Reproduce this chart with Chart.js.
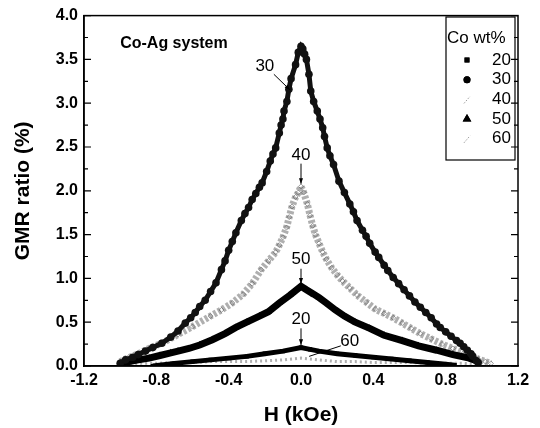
<!DOCTYPE html>
<html>
<head>
<meta charset="utf-8">
<script src="https://cdn.jsdelivr.net/npm/chart.js@4"></script>
<style>
  body { margin: 0; background: #fff; }
  #wrap { width: 540px; height: 428px; }
</style>
</head>
<body>
<div id="wrap"><canvas id="gmrChart" width="540" height="428"></canvas></div>
<script>
// tick labels
const xTicks = [-1.2, -0.8, -0.4, 0.0, 0.4, 0.8, 1.2];
const yTicks = [0.0, 0.5, 1.0, 1.5, 2.0, 2.5, 3.0, 3.5, 4.0];

// Co wt% = 20
const h20 = [-0.82, -0.7, -0.6, -0.5, -0.4, -0.3, -0.2, -0.1, 0.0, 0.05, 0.1, 0.2, 0.3, 0.4, 0.5, 0.6, 0.7, 0.8, 0.85];
const gmr20 = [0.0, 0.03, 0.05, 0.07, 0.09, 0.11, 0.14, 0.17, 0.21, 0.19, 0.17, 0.14, 0.12, 0.10, 0.08, 0.06, 0.04, 0.02, 0.01];

// Co wt% = 30
const h30 = [-1.0, -0.97, -0.93, -0.9, -0.86, -0.82, -0.77, -0.72, -0.68, -0.64, -0.61, -0.585, -0.56, -0.53, -0.5, -0.47,
  -0.44, -0.42, -0.4, -0.38, -0.36, -0.33, -0.31, -0.29, -0.27, -0.25, -0.23, -0.215, -0.19, -0.17, -0.155, -0.14,
  -0.12, -0.11, -0.1, -0.094, -0.078, -0.067, -0.055, -0.03, -0.015, 0.0,
  0.01, 0.02, 0.03, 0.044, 0.054, 0.07, 0.09, 0.105, 0.12, 0.13, 0.145, 0.16, 0.18, 0.21, 0.24, 0.27, 0.29, 0.31,
  0.34, 0.36, 0.38, 0.41, 0.43, 0.46, 0.48, 0.51, 0.54, 0.57, 0.6, 0.63, 0.66, 0.69, 0.72, 0.75, 0.77, 0.8, 0.83,
  0.86, 0.88, 0.9, 0.92, 0.94, 0.95, 0.97, 0.98];
const gmr30 = [0.03, 0.07, 0.10, 0.13, 0.17, 0.21, 0.26, 0.33, 0.40, 0.49, 0.55, 0.61, 0.68, 0.75, 0.85, 0.95,
  1.10, 1.20, 1.32, 1.42, 1.52, 1.66, 1.74, 1.81, 1.90, 1.97, 2.04, 2.09, 2.22, 2.34, 2.42, 2.49,
  2.66, 2.75, 2.82, 2.91, 3.02, 3.16, 3.28, 3.44, 3.58, 3.65,
  3.62, 3.56, 3.50, 3.33, 3.14, 3.02, 2.91, 2.82, 2.72, 2.62, 2.49, 2.40, 2.30, 2.11, 1.98, 1.85, 1.76, 1.66,
  1.55, 1.48, 1.40, 1.30, 1.24, 1.15, 1.09, 1.01, 0.94, 0.87, 0.80, 0.73, 0.67, 0.61, 0.55, 0.48, 0.44, 0.39, 0.34,
  0.29, 0.26, 0.22, 0.18, 0.14, 0.11, 0.06, 0.04];

// Co wt% = 40
const h40 = [-1.0, -0.96, -0.9, -0.84, -0.76, -0.68, -0.6, -0.5, -0.44, -0.38, -0.32, -0.27, -0.22, -0.18, -0.14, -0.12,
  -0.1, -0.08, -0.065, -0.05, -0.03, -0.015, 0.0, 0.015, 0.035, 0.05, 0.065, 0.08, 0.1, 0.12, 0.14, 0.17, 0.2, 0.23,
  0.27, 0.31, 0.36, 0.41, 0.46, 0.51, 0.56, 0.61, 0.66, 0.72, 0.78, 0.84, 0.9, 0.94, 0.98, 1.02, 1.05];
const gmr40 = [0.05, 0.09, 0.14, 0.20, 0.27, 0.36, 0.45, 0.57, 0.64, 0.72, 0.82, 0.94, 1.10, 1.20, 1.30, 1.38,
  1.47, 1.58, 1.70, 1.82, 1.93, 1.98, 2.05, 1.98, 1.85, 1.72, 1.60, 1.50, 1.40, 1.30, 1.22, 1.12, 1.04, 0.97,
  0.89, 0.81, 0.73, 0.65, 0.60, 0.55, 0.49, 0.43, 0.37, 0.31, 0.25, 0.20, 0.15, 0.12, 0.08, 0.05, 0.03];

// Co wt% = 50
const h50 = [-1.0, -0.95, -0.9, -0.84, -0.78, -0.72, -0.68, -0.62, -0.56, -0.49, -0.42, -0.36, -0.3, -0.23, -0.18,
  -0.12, -0.06, 0.0, 0.03, 0.07, 0.1, 0.14, 0.19, 0.24, 0.3, 0.38, 0.46, 0.56, 0.65, 0.75, 0.84, 0.93, 0.97];
const gmr50 = [0.03, 0.05, 0.07, 0.09, 0.12, 0.15, 0.17, 0.20, 0.24, 0.30, 0.37, 0.44, 0.50, 0.57, 0.62,
  0.72, 0.81, 0.91, 0.87, 0.82, 0.78, 0.72, 0.64, 0.57, 0.50, 0.43, 0.35, 0.29, 0.23, 0.18, 0.13, 0.09, 0.06];

// Co wt% = 60
const h60 = [-1.0, -0.9, -0.8, -0.7, -0.6, -0.5, -0.4, -0.3, -0.2, -0.1, 0.0, 0.1, 0.2, 0.3, 0.4, 0.5, 0.6, 0.7, 0.8, 0.9, 1.0];
const gmr60 = [0.02, 0.03, 0.03, 0.04, 0.04, 0.05, 0.05, 0.05, 0.06, 0.07, 0.09, 0.07, 0.05, 0.05, 0.04, 0.04, 0.04, 0.03, 0.03, 0.03, 0.02];

// curve labels with arrows (data units)
const curveNotes = [
  { text: '30', x: -0.2, y: 3.42, from: [-0.15, 3.33], to: [-0.06, 3.15] },
  { text: '40', x: 0.0, y: 2.41, from: [0.0, 2.31], to: [0.0, 2.08] },
  { text: '50', x: 0.0, y: 1.22, from: [0.0, 1.11], to: [0.0, 0.94] },
  { text: '20', x: 0.0, y: 0.53, from: [0.0, 0.43], to: [0.0, 0.24] },
  { text: '60', x: 0.27, y: 0.28, from: [0.22, 0.23], to: [0.045, 0.11], noHead: true }
];

function toPoints(xs, ys) {
  return xs.map((x, i) => ({ x: x, y: ys[i] }));
}

const datasets = [
  {
    label: '20', data: toPoints(h20, gmr20), order: 1,
    borderColor: '#000', borderWidth: 5, backgroundColor: '#000',
    pointStyle: 'rect', pointRadius: 3, pointBorderWidth: 0
  },
  {
    label: '30', data: toPoints(h30, gmr30), order: 2,
    borderColor: '#111', borderWidth: 5, backgroundColor: '#111',
    pointStyle: 'circle', pointRadius: 3.8, pointBorderWidth: 0
  },
  {
    label: '40', data: toPoints(h40, gmr40), order: 4,
    borderColor: 'rgba(110,110,110,0.55)', borderWidth: 7, borderDash: [3, 2], backgroundColor: 'rgba(0,0,0,0)',
    pointStyle: 'rectRot', pointRadius: 2.5, pointBorderWidth: 1, pointBorderColor: 'rgba(90,90,90,0.6)'
  },
  {
    label: '50', data: toPoints(h50, gmr50), order: 3,
    borderColor: '#000', borderWidth: 7, backgroundColor: '#000',
    pointStyle: 'triangle', pointRadius: 4, pointBorderWidth: 0
  },
  {
    label: '60', data: toPoints(h60, gmr60), order: 5,
    borderColor: 'rgba(120,120,120,0.6)', borderWidth: 3, borderDash: [2, 3], backgroundColor: 'rgba(0,0,0,0)',
    pointRadius: 0
  }
];

// 图框、内刻度、注释、图例
const decorPlugin = {
  id: 'decor',
  afterDraw(chart) {
    const ctx = chart.ctx;
    const a = chart.chartArea;
    const xs = chart.scales.x, ys = chart.scales.y;
    ctx.save();
    ctx.strokeStyle = '#000';
    ctx.lineWidth = 1.5;
    ctx.strokeRect(a.left, a.top, a.right - a.left, a.bottom - a.top);

    // y inward ticks, major every 0.5, minor every 0.25
    ctx.lineWidth = 1.2;
    for (let v = 0; v <= 4.0001; v += 0.25) {
      const py = ys.getPixelForValue(v);
      const major = Math.abs(v * 2 - Math.round(v * 2)) < 1e-6;
      const len = major ? 7 : 4;
      ctx.beginPath();
      ctx.moveTo(a.left, py); ctx.lineTo(a.left + len, py);
      ctx.moveTo(a.right, py); ctx.lineTo(a.right - len, py);
      ctx.stroke();
    }

    // system label
    ctx.fillStyle = '#000';
    ctx.font = 'bold 16px "Liberation Sans", Arial, sans-serif';
    ctx.textAlign = 'left';
    ctx.textBaseline = 'middle';
    ctx.fillText('Co-Ag system', xs.getPixelForValue(-1.0), ys.getPixelForValue(3.68));

    // curve labels
    ctx.font = '17px "Liberation Sans", Arial, sans-serif';
    ctx.textAlign = 'center';
    curveNotes.forEach(n => {
      ctx.fillText(n.text, xs.getPixelForValue(n.x), ys.getPixelForValue(n.y));
      const x1 = xs.getPixelForValue(n.from[0]), y1 = ys.getPixelForValue(n.from[1]);
      const x2 = xs.getPixelForValue(n.to[0]), y2 = ys.getPixelForValue(n.to[1]);
      ctx.lineWidth = 1;
      ctx.beginPath();
      ctx.moveTo(x1, y1); ctx.lineTo(x2, y2);
      ctx.stroke();
      if (!n.noHead) {
        const ang = Math.atan2(y2 - y1, x2 - x1);
        ctx.beginPath();
        ctx.moveTo(x2, y2);
        ctx.lineTo(x2 - 6 * Math.cos(ang - 0.35), y2 - 6 * Math.sin(ang - 0.35));
        ctx.lineTo(x2 - 6 * Math.cos(ang + 0.35), y2 - 6 * Math.sin(ang + 0.35));
        ctx.closePath();
        ctx.fill();
      }
    });

    // legend box
    const lx = 446, ly = 17, lw = 69, lh = 143;
    ctx.lineWidth = 1.2;
    ctx.strokeRect(lx, ly, lw, lh);
    ctx.font = '17px "Liberation Sans", Arial, sans-serif';
    ctx.textAlign = 'left';
    ctx.fillText('Co wt%', lx + 1, ly + 21);
    chart.data.datasets.forEach((ds, i) => {
      const cy = ly + 43 + i * 19.7;
      ctx.textAlign = 'right';
      ctx.fillStyle = '#000';
      ctx.fillText(ds.label, lx + lw - 4, cy);
      if (ds.label === '40' || ds.label === '60') {
        ctx.strokeStyle = 'rgba(110,110,110,0.7)';
        ctx.lineWidth = 1;
        ctx.setLineDash([1.5, 1.5]);
        ctx.beginPath();
        ctx.moveTo(lx + 18, cy + 4); ctx.lineTo(lx + 24, cy - 3);
        ctx.stroke();
        ctx.setLineDash([]);
        ctx.strokeStyle = '#000';
      } else {
        Chart.helpers.drawPoint(ctx, {
          pointStyle: ds.pointStyle, radius: ds.pointStyle === 'triangle' ? 5 : 3.5,
          borderWidth: 0, rotation: 0
        }, lx + 21, cy);
        ctx.fill();
      }
    });
    ctx.restore();
  }
};

const ctx = document.getElementById('gmrChart').getContext('2d');
new Chart(ctx, {
  type: 'line',
  data: { datasets: datasets },
  plugins: [decorPlugin],
  options: {
    responsive: false,
    animation: false,
    layout: { padding: { top: 14, right: 22, left: 0, bottom: 0 } },
    plugins: { legend: { display: false }, tooltip: { enabled: false } },
    elements: { line: { tension: 0 } },
    scales: {
      x: {
        type: 'linear', min: -1.2, max: 1.2,
        afterFit: s => { s.height = 62; },
        afterBuildTicks: s => { s.ticks = xTicks.map(v => ({ value: v })); },
        grid: { display: false, drawTicks: false },
        border: { display: true, color: '#000', width: 1.5 },
        ticks: {
          padding: 5, color: '#000',
          font: { family: '"Liberation Sans", Arial, sans-serif', size: 16, weight: 'bold' },
          callback: v => v.toFixed(1)
        },
        title: {
          display: true, text: 'H (kOe)', color: '#000', padding: { top: 5, bottom: 0 },
          font: { family: '"Liberation Sans", Arial, sans-serif', size: 21, weight: 'bold' }
        }
      },
      y: {
        min: 0, max: 4,
        afterFit: s => { s.width = 84; },
        afterBuildTicks: s => { s.ticks = yTicks.map(v => ({ value: v })); },
        grid: { display: false, drawTicks: false },
        border: { display: true, color: '#000', width: 1.5 },
        ticks: {
          padding: 6, color: '#000',
          font: { family: '"Liberation Sans", Arial, sans-serif', size: 16, weight: 'bold' },
          callback: v => v.toFixed(1)
        },
        title: {
          display: true, text: 'GMR ratio (%)', color: '#000', padding: { top: 11, bottom: 0 },
          font: { family: '"Liberation Sans", Arial, sans-serif', size: 21, weight: 'bold' }
        }
      }
    }
  }
});
</script>
</body>
</html>
